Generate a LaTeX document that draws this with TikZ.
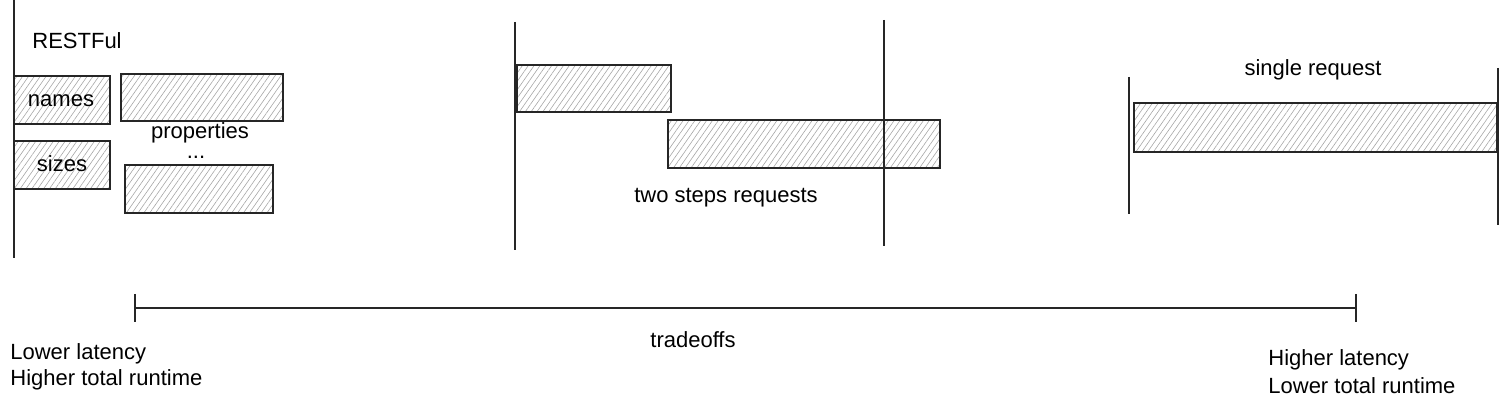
\documentclass[tikz,border=0pt]{standalone}
\usepackage{fontspec}
\setmainfont{Liberation Sans}
\usetikzlibrary{patterns.meta}

\tikzset{
  hatchbox/.style={draw=black!85, line width=0.9pt, pattern={Lines[angle=55,distance=2.4pt,line width=0.3pt]}, pattern color=black!35},
  bound/.style={draw=black!85, line width=0.9pt},
  lbl/.style={font=\fontsize{11}{13}\selectfont, inner sep=0pt},
}

\begin{document}
\begin{tikzpicture}[x=0.5pt,y=-0.5pt]
\useasboundingbox (0,0) rectangle (1509,410);
%\draw[step=50,gray,very thin] (0,0) grid (1509,410);
% RESTful
\draw[hatchbox] (14,76) rectangle (110,124);
\draw[hatchbox] (121,74) rectangle (283,121);
\draw[hatchbox] (14,141) rectangle (110,189);
\draw[hatchbox] (125,165) rectangle (273,213);
\coordinate (r1) at (14,0);
\coordinate (r2) at (14,258);
\draw[bound] (r1) -- (r2);
\node[lbl,anchor=west] (rest) at (32,41) {RESTFul};
\node[lbl] (names) at (61,101) {names};
\node[lbl] (sizes) at (62,164) {sizes};
\node[lbl,anchor=base] (props) at (200,139) {properties};
\node[lbl,anchor=base] (dots) at (196,159) {...};
% two steps
\draw[hatchbox] (517,65) rectangle (671,112);
\draw[hatchbox] (668,120) rectangle (940,168);
\coordinate (m1) at (515,22);
\coordinate (m2) at (515,250);
\draw[bound] (m1) -- (m2);
\coordinate (n1) at (884,20);
\coordinate (n2) at (884,246);
\draw[bound] (n1) -- (n2);
\node[lbl] (two) at (726,198) {two steps requests};
% single
\draw[hatchbox] (1134,103) rectangle (1497,152);
\coordinate (s1) at (1129,77);
\coordinate (s2) at (1129,214);
\draw[bound] (s1) -- (s2);
\coordinate (e1) at (1498,68);
\coordinate (e2) at (1498,225);
\draw[bound] (e1) -- (e2);
\node[lbl] (single) at (1313,70) {single request};
% tradeoffs
\coordinate (tl) at (135,308);
\coordinate (tr) at (1356,308);
\draw[bound] (tl) -- (tr);
\draw[bound] ([yshift=7]tl) -- ([yshift=-7]tl);
\draw[bound] ([yshift=7]tr) -- ([yshift=-7]tr);
\node[lbl] (trade) at (693,340) {tradeoffs};
\node[lbl,anchor=west] (lowlat) at (10,354) {Lower latency};
\node[lbl,anchor=west] (hightot) at (10,380) {Higher total runtime};
\node[lbl,anchor=west] (highlat) at (1268,360) {Higher latency};
\node[lbl,anchor=west] (lowtot) at (1268,386) {Lower total runtime};
\end{tikzpicture}
\end{document}
